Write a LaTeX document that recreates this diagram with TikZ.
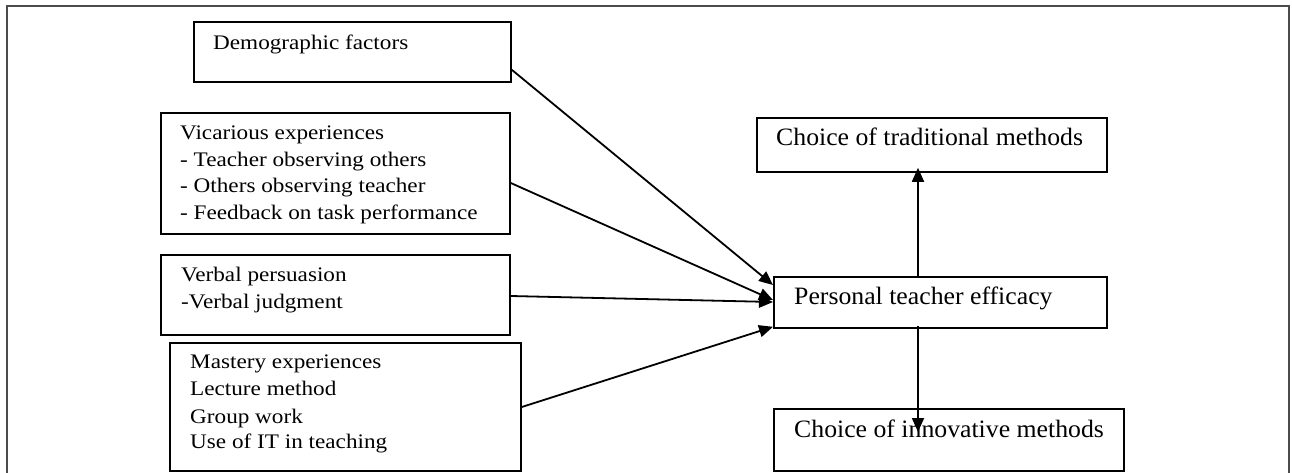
\documentclass[tikz,border=0pt]{standalone}
\usepackage{fontspec}
\setmainfont{Liberation Serif}
\newfontfamily\widefont[FakeStretch=1.12]{Liberation Serif}
\newfontfamily\rightfont[FakeStretch=1.03]{Liberation Serif}
\usetikzlibrary{arrows.meta,calc}
\begin{document}
\begin{tikzpicture}[x=1pt,y=-1pt,
  box/.style={draw=black,line width=1.8pt,anchor=north west,inner sep=0pt},
  ltxt/.style={anchor=base west,inner sep=0pt,align=left,font=\widefont\fontsize{20.7}{26.5}\selectfont},
  rtxt/.style={anchor=base west,inner sep=0pt,align=left,font=\rightfont\fontsize{25}{30}\selectfont},
  conn/.style={line width=1.8pt,-{Triangle[length=14pt,width=12pt]}}]
\useasboundingbox (0,0) rectangle (1292,473);
\draw[line width=1.3pt,draw=black!70] (7,490) -- (7,6) -- (1289,6) -- (1289,490);
% boxes
\node[box,minimum width=317pt,minimum height=60pt] (demo) at (193,21) {};
\node[box,minimum width=349pt,minimum height=121pt] (vic) at (160,112) {};
\node[box,minimum width=349pt,minimum height=80pt] (verb) at (160,254) {};
\node[box,minimum width=351pt,minimum height=128pt] (mast) at (169,342) {};
\node[box,minimum width=350pt,minimum height=54pt] (trad) at (756,117) {};
\node[box,minimum width=333pt,minimum height=51pt] (pte) at (773,276) {};
\node[box,minimum width=350pt,minimum height=62pt] (inno) at (773,408) {};
% texts
\node[ltxt] (demoT) at (213,50) {Demographic factors};
\node[ltxt] (vicT1) at (180,140) {Vicarious experiences};
\node[ltxt] (vicT2) at (180,167) {- Teacher observing others};
\node[ltxt] (vicT3) at (180,193) {- Others observing teacher};
\node[ltxt] (vicT4) at (180,219) {- Feedback on task performance};
\node[ltxt] (verbT1) at (181,281) {Verbal persuasion};
\node[ltxt] (verbT2) at (181,308) {-Verbal judgment};
\node[ltxt] (mastT1) at (190,368) {Mastery experiences};
\node[ltxt] (mastT2) at (190,395) {Lecture method};
\node[ltxt] (mastT3) at (190,423) {Group work};
\node[ltxt] (mastT4) at (190,448) {Use of IT in teaching};
\node[rtxt] (tradT) at (776,146) {Choice of traditional methods};
\node[rtxt] (pteT) at (794,304) {Personal teacher efficacy};
\node[rtxt] (innoT) at (794,437) {Choice of innovative methods};
% connectors
\draw[conn] ($(demo.south east)+(0,-13)$) -- ($(pte.north west)+(0,9)$);
\draw[conn] ($(vic.north east)+(0,71)$) -- ($(pte.north west)+(0,24)$);
\draw[conn] ($(verb.north east)+(0,42)$) -- ($(pte.north west)+(0,26)$);
\draw[conn] ($(mast.north east)+(0,65)$) -- ($(pte.south west)+(0,-2)$);
\draw[conn] ($(pte.north west)+(145,0)$) -- ($(trad.south west)+(162,-5)$);
\draw[conn] ($(pte.south west)+(145,-3)$) -- ($(inno.north west)+(145,24)$);
\end{tikzpicture}
\end{document}
